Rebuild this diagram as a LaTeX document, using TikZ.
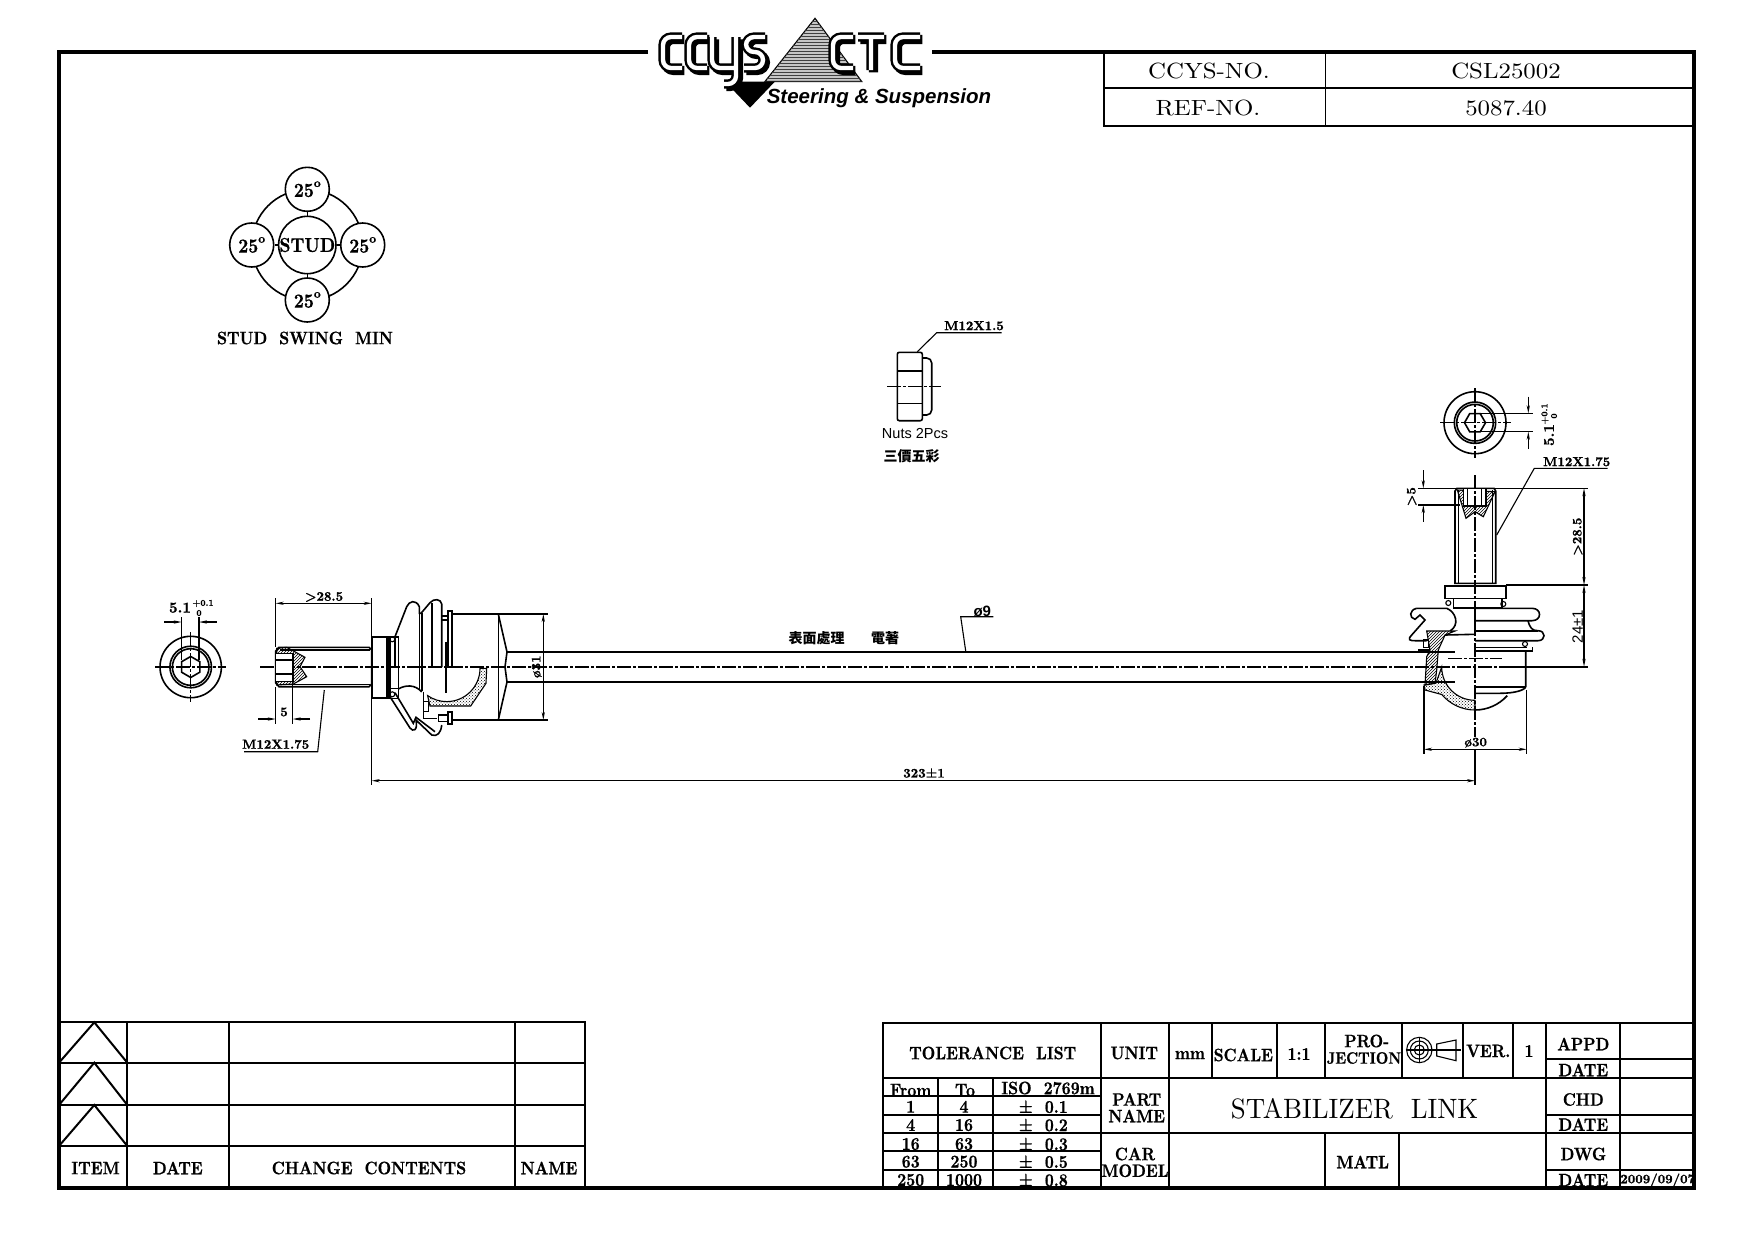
\documentclass[tikz,border=0pt]{standalone}
\usepackage{fontspec}
\usepackage{tikz}
\usetikzlibrary{arrows.meta,patterns}
\newfontfamily\cjkfont{Noto Sans CJK TC}
\newfontfamily\arialfont{Liberation Sans}
\newfontfamily\tablefont[Extension=.otf,FakeStretch=0.87,FakeBold=0.7]{lmroman10-bold}
\newfontfamily\dimfont[Extension=.otf,FakeBold=1.2]{lmroman10-bold}
\newfontfamily\titlefont[Extension=.otf,FakeStretch=1.13]{lmroman10-regular}
\newfontfamily\partfont[Extension=.otf,FakeStretch=0.96]{lmroman10-regular}
\newcommand{\fs}[1]{\fontsize{#1}{#1}\selectfont}
\tikzset{
  frameline/.style={line width=3.2pt},
  tableline/.style={line width=2pt},
  partline/.style={line width=1.6pt},
  thinline/.style={line width=1.1pt},
  dimline/.style={line width=1.1pt,>={Stealth[length=8pt,width=3.2pt]}},
  axisline/.style={line width=1.2pt,dash pattern=on 14pt off 2pt on 3pt off 2pt},
  titletext/.style={font=\titlefont\fs{22},inner sep=0pt},
  tabletext/.style={font=\tablefont\fs{18},inner sep=0pt},
  dimtext/.style={font=\dimfont\fs{13},inner sep=0pt},
  toltext/.style={font=\dimfont\fs{9},inner sep=0pt},
  swingnode/.style={draw,circle,fill=white,line width=1.6pt,minimum size=44pt,inner sep=0pt,font=\tablefont\fs{20}},
  logostroke/.style={draw=black,double=white,double distance=4.4pt,line width=2.4pt,rounded corners=8pt},
  logoshadow/.style={draw=black,line width=9.2pt,rounded corners=8pt,shift={(2.4,2.4)}}
}
\newcommand{\ccyspath}{(682,37)--(663,37)--(663,68)--(682,68)
  (707,37)--(689,37)--(689,68)--(707,68)
  (712,37)--(712,68)--(736,68) (736,37)--(736,84)--(724,84)
  (765,37)--(746,37)--(746,52)--(763,52)--(763,68)--(744,68)
  (853,37)--(833,37)--(833,68)--(853,68)
  (858,37)--(884,37) (871,37)--(871,70)
  (920,37)--(895,37)--(895,68)--(920,68)}
\newcommand{\swingdeg}{\raisebox{-2pt}{25}\raisebox{8pt}{\dimfont\fs{12}o}}
\begin{document}
\begin{tikzpicture}[x=1pt,y=-1pt]
  \useasboundingbox (0,0) rectangle (1754,1240);

  % outer frame
  \draw[frameline] (648,52) -- (59,52) -- (59,1188) -- (1694,1188) -- (1694,52) -- (932,52);

  % logo
  \draw[thinline,fill=gray!45] (815,18.3) -- (765,81.5) -- (861.7,81.5) -- cycle;
  \fill[pattern=horizontal lines,pattern color=black!75] (815,18.3) -- (765,81.5) -- (861.7,81.5) -- cycle;
  \fill (725,81.5) -- (775,81.5) -- (750,107.7) -- cycle;
  \draw[logoshadow] \ccyspath;
  \draw[logostroke] \ccyspath;
  \node[inner sep=0pt,font=\arialfont\fs{20.5}\bfseries\itshape] (logotext) at (879,98.5) {Steering \& Suspension};

  % number box
  \draw[tableline] (1104,52) -- (1104,125.7) -- (1694,125.7);
  \draw[tableline] (1104,88.3) -- (1694,88.3);
  \draw[thinline] (1325.6,52) -- (1325.6,125.7);
  \node[titletext] (ccysno) at (1209,70.7) {CCYS-NO.};
  \node[titletext] (ccysval) at (1506,71) {CSL25002};
  \node[titletext] (refno) at (1208,108) {REF-NO.};
  \node[titletext] (refval) at (1506,108) {5087.40};

  % stud swing
  \draw[partline] (307.3,245) circle[radius=55.5pt];
  \node[swingnode,minimum size=55pt] (stud) at (307.3,245) {STUD};
  \node[swingnode] (swingtop) at (307.3,189.3) {\swingdeg};
  \node[swingnode] (swingleft) at (251.7,245) {\swingdeg};
  \node[swingnode] (swingright) at (362.7,245) {\swingdeg};
  \node[swingnode] (swingbottom) at (307.3,300) {\swingdeg};
  \draw[partline] (stud) -- (swingtop);
  \draw[partline] (stud) -- (swingleft);
  \draw[partline] (stud) -- (swingright);
  \draw[partline] (stud) -- (swingbottom);
  \node[tabletext] (swingtitle) at (305,338) {STUD\ \ SWING\ \ MIN};

  % nut
  \draw[partline,rounded corners=2pt] (897.3,352.3) rectangle (922.3,420.7);
  \draw[partline] (897.3,370.7) -- (922.3,370.7) (897.3,403.3) -- (922.3,403.3);
  \draw[partline,rounded corners=5pt] (922.3,358) -- (931.7,358) -- (931.7,415) -- (922.3,415);
  \draw[axisline] (887.3,386.7) -- (941,386.7);
  \draw[thinline] (917.3,351.7) -- (936.7,332.7) -- (1001.7,332.7);
  \node[dimtext] (nutsize) at (974,325.7) {M12X1.5};
  \node[inner sep=0pt,font=\arialfont\fs{14.5}] (nutcount) at (915,433.3) {Nuts 2Pcs};
  \node[inner sep=0pt,font=\cjkfont\fs{14}\bfseries] (nutfinish) at (911.7,455.7) {三價五彩};

  % end view, left
  \draw[partline] (190.7,667) circle[radius=30.7pt] circle[radius=20.8pt] circle[radius=18.3pt];
  \draw[partline] (190.7,656.5) -- (199.8,661.7) -- (199.8,672.2) -- (190.7,677.5) -- (181.6,672.2) -- (181.6,661.7) -- cycle;
  \draw[axisline] (155,667) -- (226,667);
  \draw[axisline] (190.7,632) -- (190.7,702);
  \draw[thinline] (181.7,617) -- (181.7,660) (199,617) -- (199,660);
  \draw[dimline,->] (164,622) -- (181.7,622);
  \draw[dimline,->] (216.7,622) -- (199,622);
  \node[dimtext,font=\dimfont\fs{15}] (leftsocket) at (180,607.7) {5.1};
  \node[toltext] (lefttolup) at (203,603.5) {+0.1};
  \node[toltext] (lefttoldown) at (199,613) {0};

  % main axis and rod
  \draw[axisline] (260,667) -- (1536.7,667);
  \draw[partline] (506.7,651.7) -- (1455,651.7) (506.7,682) -- (1455,682);

  % stud, left
  \draw[partline] (279,647.3) -- (369,647.3) -- (371.7,650) -- (371.7,684) -- (369,686.7) -- (279,686.7) -- (275.7,683) -- (275.7,651) -- cycle;
  \draw[thinline] (280,650) -- (370,650) (280,684.3) -- (370,684.3);
  \draw[thinline,pattern=north east lines] (276.7,648.3) -- (286.7,647.3) -- (305,657.3) -- (300,666.7) -- (306.7,676.7) -- (293.3,684) -- (276.7,685) -- cycle;
  \draw[thinline,fill=white] (275.7,653.3) rectangle (293,681.7);
  \draw[thinline] (275.7,660) -- (293,660) (275.7,674) -- (293,674);

  % boot and housing, left
  \draw[partline] (371.7,636.7) rectangle (388,697.7);
  \draw[partline] (386.7,636.7) rectangle (398.3,698.3);
  \draw[thinline] (390,636.7) -- (390,698) (386.7,688.3) -- (398.3,688.3);
  \draw[thinline] (392.3,639.3) circle[radius=2.5pt] (392.3,694.3) circle[radius=2.5pt];
  \draw[partline] (395,666.7) -- (395,636.7) -- (406.7,606.7) .. controls (409,601) and (416,599) .. (419.3,606.7) -- (419.3,613.3) -- (421,613.3) -- (430,602.7) .. controls (434,598) and (441,599) .. (441.7,604) -- (441.7,667);
  \draw[partline] (419.3,613.3) -- (419.3,690) (421.7,613.3) -- (421.7,691) (431.7,603) -- (431.7,667);
  \draw[partline] (447.7,610.7) rectangle (451.7,667);
  \draw[thinline] (441.7,616) rectangle (447.7,620);
  \draw[line width=2pt] (446,641.7) -- (446,667);
  \draw[thinline] (446,667) -- (446,693);
  \draw[partline] (451.7,614) -- (498.3,614) -- (507,652) -- (505,667) -- (507,682) -- (498.3,720) -- (451.7,720);
  \draw[partline] (498.3,614) -- (498.3,720);
  \draw[partline] (447.7,711.7) rectangle (451.7,724);
  \draw[thinline] (438.3,715) rectangle (447.7,721.7);
  \draw[thinline] (423.3,701.7) rectangle (428.3,711.7);
  \draw[thinline] (423.3,691.7) -- (423.3,718.3) -- (436.7,718.3);
  \draw[thinline,pattern=crosshatch dots] (480,668.3) arc[start angle=0,end angle=-125,radius=33.3pt] -- (430,706) -- (470.7,706) -- (486,683.3) -- (486.7,668.3) -- cycle;
  \draw[partline] (398.3,689) .. controls (405,685) and (415,684) .. (421.7,692);
  \draw[partline] (390,696.7) -- (410,728) .. controls (413,732) and (418,731) .. (416,720) -- (431.7,735) .. controls (437,737) and (441,733) .. (441.7,725);
  \draw[partline] (395,692.7) -- (413.3,723.3) -- (416,717.3) -- (435,731.7);

  % left dimensions
  \draw[thinline] (275.7,598) -- (275.7,647) (371.7,598) -- (371.7,785);
  \draw[dimline,<->] (275.7,603.3) -- (371.7,603.3);
  \node[dimtext] (leftgrip) at (324,597) {>28.5};
  \draw[thinline] (275.7,687) -- (275.7,724) (292.7,660) -- (292.7,724);
  \draw[dimline,->] (258,719) -- (275.7,719);
  \draw[dimline,->] (310,719) -- (292.7,719);
  \node[dimtext] (leftdepth) at (284,712) {5};
  \draw[thinline] (324.3,690) -- (317.7,751.7) -- (244,751.7);
  \node[dimtext] (leftthread) at (275.7,744.3) {M12X1.75};
  \draw[thinline] (498.3,614) -- (548,614) (498.3,720) -- (548,720);
  \draw[dimline,<->] (543.3,614) -- (543.3,720);
  \node[dimtext,rotate=90] (housingdia) at (536.7,666.7) {ø31};

  % rod labels
  \draw[thinline] (965.7,651) -- (960.7,616.7) -- (993.3,616.7);
  \node[dimtext,font=\arialfont\fs{15}\bfseries] (roddia) at (982.3,611) {ø9};
  \node[inner sep=0pt,font=\cjkfont\fs{14}\bfseries] (rodfinish) at (816.7,638.3) {表面處理};
  \node[inner sep=0pt,font=\cjkfont\fs{14}\bfseries] (rodcoat) at (885,638) {電著};

  % end view, right
  \draw[partline] (1475,422.7) circle[radius=31pt] circle[radius=20.7pt] circle[radius=18.3pt];
  \draw[partline] (1464.5,422.7) -- (1469.7,413.6) -- (1480.2,413.6) -- (1485.5,422.7) -- (1480.2,431.8) -- (1469.7,431.8) -- cycle;
  \draw[axisline] (1440,422.7) -- (1510.7,422.7);
  \draw[axisline] (1475,388) -- (1475,458);
  \draw[thinline] (1480,413.3) -- (1533,413.3) (1480,431.7) -- (1533,431.7);
  \draw[dimline,->] (1528.3,396.7) -- (1528.3,413.3);
  \draw[dimline,->] (1528.3,449) -- (1528.3,431.7);
  \node[dimtext,rotate=90,font=\dimfont\fs{15}] (rightsocket) at (1549,435) {5.1};
  \node[toltext,rotate=90] (righttolup) at (1545,414) {+0.1};
  \node[toltext,rotate=90] (righttoldown) at (1554,416) {0};

  % stud, right
  \draw[partline] (1457,488.3) -- (1494,488.3) -- (1495.7,491) -- (1495.7,583.3) -- (1455,583.3) -- (1455,491) -- cycle;
  \draw[thinline] (1458.3,490) -- (1458.3,583) (1492.7,490) -- (1492.7,583);
  \draw[thinline,pattern=north east lines] (1457.3,490) -- (1466,518.3) -- (1475,511.7) -- (1483.3,516.7) -- (1495,491.7) -- cycle;
  \draw[thinline,fill=white] (1463.3,488.3) rectangle (1486,506);
  \draw[thinline] (1467.7,488.3) -- (1467.7,506) (1481.7,488.3) -- (1481.7,506);

  % boot and housing, right
  \draw[partline] (1445,585.7) rectangle (1506,598.3);
  \draw[partline] (1453.3,598.3) rectangle (1501.7,607.7);
  \draw[thinline] (1448.3,603) circle[radius=2.5pt] (1503.3,604) circle[radius=2.5pt] (1525,644) circle[radius=2.5pt];
  \draw[partline] (1475,608.3) -- (1532,608.3) .. controls (1542,608.3) and (1542,620.7) .. (1532,620.7) -- (1475,620.7);
  \draw[partline] (1528,620.7) .. controls (1530,628) and (1532,630.7) .. (1538,630.7) .. controls (1546,630.7) and (1546,640.7) .. (1538,640.7) -- (1475,640.7);
  \draw[partline] (1475,630.7) -- (1538,630.7);
  \draw[partline] (1475,647.3) -- (1527,647.3) (1475,651) -- (1532.3,651) -- (1532.3,647.3);
  \draw[partline] (1525.7,651) -- (1525.7,686.7) .. controls (1525,690) and (1515,693.3) .. (1500,693.3) -- (1475,693.3);
  \draw[partline] (1475,686.7) -- (1525.7,686.7);
  \draw[partline] (1475,710) arc[start angle=-90,end angle=-42,radius=43.3pt];
  \draw[partline] (1416.7,608.3) .. controls (1409,610) and (1409,618) .. (1415,619.3) -- (1420,615) -- (1425,620) -- (1411.7,635) .. controls (1407,640) and (1410,640.7) .. (1415,640.7) -- (1426.7,640.7);
  \draw[partline] (1416.7,608.3) -- (1446.7,608.3) .. controls (1456,612) and (1460,625) .. (1450,631);
  \draw[thinline,pattern=north east lines] (1426.7,631) -- (1455,631) -- (1445,635) -- (1438.3,650) -- (1436.7,670) -- (1435,683.3) -- (1425,685) -- (1426.7,656.7) -- (1430,650) -- cycle;
  \draw[partline] (1445,635) -- (1475,634.3);
  \draw[thinline,pattern=crosshatch dots] (1441.7,667) arc[start angle=180,end angle=270,radius=33.3pt] -- (1475,710) arc[start angle=-90,end angle=-140,radius=43.3pt] -- (1425,690) -- (1424,685) -- (1436,683) -- cycle;
  \draw[partline] (1418,650) -- (1430,650);
  \draw[thinline] (1423.3,640) rectangle (1428.3,647.3);
  \draw[axisline] (1448,658.3) -- (1501.7,658.3);
  \draw[partline] (1475,607) -- (1475,634);
  \draw[axisline] (1475,475) -- (1475,737);
  \draw[thinline] (1475,750) -- (1475,785);

  % right dimensions
  \draw[thinline] (1418,488.3) -- (1588,488.3) (1418,505) -- (1460,505);
  \draw[dimline,->] (1423.3,470) -- (1423.3,488.3);
  \draw[dimline,->] (1423.3,521.7) -- (1423.3,505);
  \node[dimtext,rotate=90] (rightdepth) at (1411.7,496.7) {>5};
  \draw[thinline] (1496.7,535) -- (1534.3,468.3) -- (1607.7,468.3);
  \node[dimtext] (rightthread) at (1576.7,461.7) {M12X1.75};
  \draw[thinline] (1506,585) -- (1588,585) (1500,667) -- (1588,667);
  \draw[dimline,<->] (1584,488.3) -- (1584,585);
  \node[dimtext,rotate=90] (rightgrip) at (1577.7,536.7) {>28.5};
  \draw[dimline,<->] (1584,585) -- (1584,666.7);
  \node[dimtext,rotate=90,font=\arialfont\fs{15}] (rightheight) at (1577.7,626.7) {24±1};
  \draw[thinline] (1424,686) -- (1424,754) (1526.7,690) -- (1526.7,754);
  \draw[dimline,<->] (1424,749.3) -- (1526.7,749.3);
  \node[dimtext] (balldia) at (1475.7,742.7) {ø30};
  \draw[dimline,<->] (371.7,780.7) -- (1475,780.7);
  \node[dimtext] (overall) at (924,773) {323±1};

  % change table
  \draw[tableline] (59,1022.3) -- (585.3,1022.3) -- (585.3,1188);
  \draw[tableline] (127.3,1022.3) -- (127.3,1188) (228.7,1022.3) -- (228.7,1188) (514.5,1022.3) -- (514.5,1188);
  \foreach \ytop/\ybase in {1022.3/1062.7,1062.7/1105,1105/1146}{
    \draw[tableline] (59,\ybase) -- (585.3,\ybase);
    \draw[tableline] (59,\ybase) -- (94.3,\ytop) -- (127.3,\ybase);
  }
  \node[tabletext] (itemhead) at (95.5,1168) {ITEM};
  \node[tabletext] (datehead) at (177.8,1168) {DATE};
  \node[tabletext] (changehead) at (369,1168) {CHANGE\ \ CONTENTS};
  \node[tabletext] (namehead) at (549,1168) {NAME};

  % title block
  \draw[tableline] (882.7,1188) -- (882.7,1022.7) -- (1694,1022.7);
  \draw[tableline] (882.7,1077.7) -- (1694,1077.7);
  \draw[tableline] (1101,1022.7) -- (1101,1188) (1168.7,1022.7) -- (1168.7,1188) (1546,1022.7) -- (1546,1188) (1620,1022.7) -- (1620,1188);
  \draw[tableline] (1211.7,1022.7) -- (1211.7,1077.7) (1276.7,1022.7) -- (1276.7,1077.7) (1325,1022.7) -- (1325,1077.7) (1402.3,1022.7) -- (1402.3,1077.7) (1463.3,1022.7) -- (1463.3,1077.7) (1513.3,1022.7) -- (1513.3,1077.7);
  \draw[tableline] (1546,1059.3) -- (1694,1059.3) (1546,1115) -- (1694,1115) (1546,1133.3) -- (1694,1133.3) (1546,1170) -- (1694,1170);
  \draw[tableline] (1101,1133.3) -- (1546,1133.3) (1325,1133.3) -- (1325,1188) (1399,1133.3) -- (1399,1188);
  \draw[tableline] (938.3,1077.7) -- (938.3,1188) (993.3,1077.7) -- (993.3,1188);
  \foreach \yrow in {1096,1115,1133.3,1151,1170}{
    \draw[tableline] (882.7,\yrow) -- (1101,\yrow);
  }
  \node[tabletext] (tollist) at (992.7,1053) {TOLERANCE\ \ LIST};
  \node[tabletext] (unithead) at (1134.3,1053) {UNIT};
  \node[tabletext] (unitval) at (1190,1055) {mm};
  \node[tabletext] (scalehead) at (1243.3,1055) {SCALE};
  \node[tabletext] (scaleval) at (1299,1054) {1:1};
  \node[tabletext] (projup) at (1366.7,1041) {PRO-};
  \node[tabletext,font=\tablefont\fs{16.5}] (projdown) at (1364,1058) {JECTION};
  \draw[thinline] (1419.3,1050) circle[radius=12.7pt] circle[radius=9pt] circle[radius=5pt];
  \draw[thinline] (1405.7,1050) -- (1460.7,1050) (1419.3,1036.7) -- (1419.3,1063.3);
  \draw[thinline] (1436.7,1044) -- (1456,1040) -- (1456,1060.7) -- (1436.7,1056) -- cycle;
  \node[tabletext] (verhead) at (1488.3,1051) {VER.};
  \node[tabletext] (verval) at (1529,1051) {1};
  \node[tabletext] (appdhead) at (1583.3,1044) {APPD};
  \node[tabletext] (appddate) at (1583.3,1070) {DATE};
  \node[tabletext] (chdhead) at (1583.3,1099.5) {CHD};
  \node[tabletext] (chddate) at (1583.3,1124.5) {DATE};
  \node[tabletext] (dwghead) at (1583.3,1154) {DWG};
  \node[tabletext] (dwgdate) at (1583.3,1180) {DATE};
  \node[dimtext] (dwgval) at (1657.7,1180) {2009/09/07};
  \node[inner sep=0pt,font=\partfont\fs{28}] (partval) at (1354.6,1109) {STABILIZER\ \ LINK};
  \node[tabletext] (matlhead) at (1362.7,1162) {MATL};
  \node[tabletext] (parthead) at (1136.7,1099.5) {PART};
  \node[tabletext] (namelabel) at (1136.7,1116) {NAME};
  \node[tabletext] (carhead) at (1135,1154) {CAR};
  \node[tabletext] (modelhead) at (1135,1170.7) {MODEL};
  \node[tabletext] (fromhead) at (910.7,1090) {From};
  \node[tabletext] (tohead) at (965,1090) {To};
  \node[tabletext] (isohead) at (1048,1088) {ISO\ \ 2769m};
  \foreach \yrow/\from/\upto/\tol in {1106.7/1/4/0.1,1125/4/16/0.2,1144/16/63/0.3,1161.7/63/250/0.5,1180/250/1000/0.8}{
    \node[tabletext] (from\yrow) at (910.7,\yrow) {\from};
    \node[tabletext] (to\yrow) at (964,\yrow) {\upto};
    \node[tabletext] (tol\yrow) at (1043.3,\yrow) {±\ \ \tol};
  }
\end{tikzpicture}
\end{document}
